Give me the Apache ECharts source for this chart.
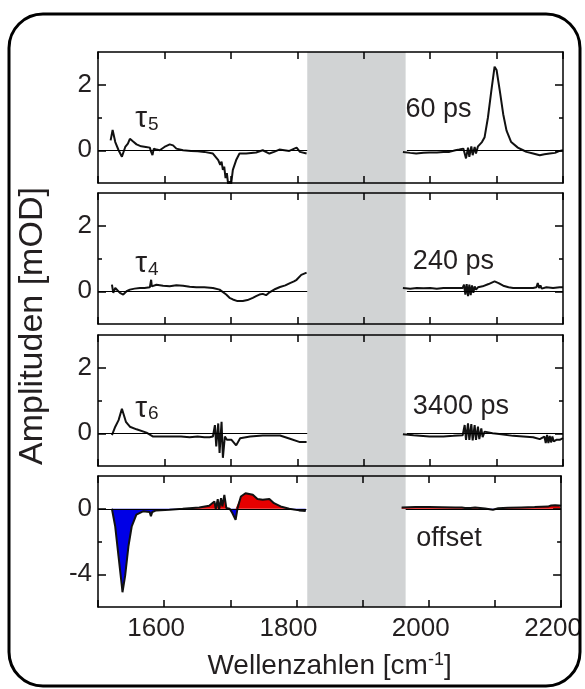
<!DOCTYPE html>
<html><head><meta charset="utf-8">
<script src="https://cdn.jsdelivr.net/npm/echarts@6/dist/echarts.min.js"></script>
<style>html,body{margin:0;padding:0;background:#fff}#c{width:585px;height:689px}</style>
</head><body><div id="c"></div>
<script>
// ---------- data (null = spectral gap) ----------
const wnTau5 = [1519,1522,1526,1531,1536,1541,1545,1548,1552,1558,1565,1572,1578,1580,1582,1584,1588,1593,1600,1608,1613,1618,1628,1640,1650,1660,1663,1673,1677,1681,1684,1686,1688,1690,1692,1694,1696,1698,1700,1703,1708,1713,1723,1738,1748,1758,1765,1773,1788,1799,1804,1814,
  1890,
  1959,1970,1979,1990,1999,2010,2020,2029,2038,2044,2050,2052,2054,2057,2059,2062,2064,2067,2069,2072,2074,2078,2082,2087,2092,2097,2100,2105,2110,2115,2122,2132,2140,2145,2155,2165,2172,2180,2188,2195,2200];
const ampTau5 = [0.3,0.62,0.25,0.0,-0.2,0.1,0.2,0.35,0.28,0.18,0.12,0.1,0.08,-0.05,-0.15,0.05,0.02,0.0,0.1,0.18,0.15,0.05,0.0,-0.02,-0.03,-0.05,-0.1,-0.1,-0.2,-0.3,-0.45,-0.35,-0.6,-0.5,-0.85,-0.7,-1.05,-0.95,-1.1,-0.6,-0.3,-0.1,-0.1,-0.07,0.0,-0.1,-0.05,0.02,-0.02,0.08,-0.05,-0.1,
  null,
  -0.05,-0.08,-0.1,-0.08,-0.07,-0.07,-0.05,-0.05,0.0,0.02,0.05,0.1,-0.25,0.08,-0.2,0.12,-0.15,0.1,-0.1,0.12,0.15,0.25,0.4,1.0,1.8,2.55,2.45,1.8,1.1,0.6,0.25,0.08,0.0,-0.05,-0.1,-0.15,-0.12,-0.1,-0.08,-0.02,0.0];

const wnTau4 = [1521,1523,1526,1528,1533,1538,1543,1548,1555,1563,1570,1578,1580,1581,1588,1598,1608,1618,1628,1638,1648,1660,1673,1683,1693,1698,1703,1710,1718,1725,1733,1738,1743,1748,1753,1757,1760,1767,1774,1782,1789,1795,1799,1806,1814,
  1890,
  1959,1970,1980,1990,2000,2010,2020,2030,2040,2049,2051,2053,2055,2057,2059,2061,2063,2065,2067,2069,2072,2079,2088,2097,2103,2110,2118,2125,2140,2155,2160,2162,2164,2166,2168,2175,2185,2195,2200];
const ampTau4 = [0.2,-0.05,0.1,0.05,-0.05,-0.1,0.0,0.05,0.08,0.1,0.1,0.12,0.35,0.15,0.2,0.17,0.15,0.18,0.17,0.14,0.12,0.12,0.1,0.05,-0.1,-0.2,-0.25,-0.3,-0.3,-0.27,-0.2,-0.15,-0.1,-0.08,-0.12,-0.05,0.0,0.07,0.13,0.18,0.25,0.3,0.35,0.5,0.57,
  null,
  0.1,0.08,0.1,0.09,0.1,0.08,0.1,0.1,0.1,0.1,0.2,-0.1,0.22,-0.15,0.2,-0.12,0.18,-0.05,0.15,0.05,0.12,0.15,0.22,0.3,0.25,0.17,0.12,0.1,0.1,0.1,0.12,0.25,0.1,0.18,0.08,0.12,0.1,0.12,0.12];

const wnTau6 = [1521,1526,1531,1536,1538,1542,1548,1558,1573,1583,1600,1613,1625,1638,1650,1660,1668,1673,1676,1678,1681,1683,1686,1688,1691,1694,1701,1708,1714,1729,1748,1774,1789,1804,1814,
  1890,
  1959,1975,1999,2020,2035,2049,2052,2054,2057,2059,2062,2064,2067,2069,2072,2074,2077,2079,2082,2084,2094,2104,2125,2140,2155,2165,2172,2174,2176,2178,2180,2182,2184,2186,2190,2195,2200];
const ampTau6 = [-0.06,0.2,0.4,0.75,0.7,0.35,0.2,0.12,0.02,-0.1,-0.1,-0.1,-0.1,-0.12,-0.1,-0.12,-0.12,-0.1,0.25,-0.4,0.3,-0.6,0.35,-0.75,-0.1,-0.2,-0.2,-0.37,-0.15,-0.1,-0.07,-0.07,-0.17,-0.27,-0.27,
  null,
  -0.03,-0.06,-0.1,-0.1,-0.08,-0.06,0.25,-0.2,0.3,-0.2,0.28,-0.22,0.25,-0.2,0.2,-0.18,0.15,-0.12,0.05,0.04,0.0,-0.02,-0.08,-0.1,-0.12,-0.18,-0.1,-0.3,-0.05,-0.3,-0.08,-0.28,-0.1,-0.25,-0.2,-0.2,-0.15];

const wnOffset = [1521,1526,1531,1536,1537,1541,1546,1551,1558,1568,1578,1580,1582,1588,1608,1628,1653,1668,1676,1678,1681,1683,1686,1688,1691,1694,1699,1703,1708,1711,1716,1723,1734,1741,1749,1759,1766,1776,1789,1804,1814,
  1890,
  1959,1980,2000,2020,2040,2050,2053,2055,2057,2059,2061,2063,2065,2070,2085,2097,2105,2120,2140,2160,2180,2185,2188,2191,2194,2197,2200];
const ampOffset = [0,-1.07,-2.9,-4.7,-5.1,-4.1,-2.3,-1.07,-0.36,-0.16,-0.2,-0.45,-0.2,-0.1,-0.06,0,0.08,0.18,0.44,-0.02,0.59,-0.06,0.65,0.14,0.85,0.04,0,-0.26,-0.67,0.04,0.75,0.95,0.85,0.59,0.55,0.6,0.34,0.14,0,-0.1,-0.14,
  null,
  0.08,0.1,0.1,0.09,0.08,0.08,0.14,0.05,0.14,0.05,0.14,0.05,0.12,0.08,0.02,-0.06,0.03,0.06,0.08,0.1,0.13,0.2,0.1,0.22,0.12,0.2,0.18];

const xRange = [1500, 2200];
const xTickLabels = [1600, 1800, 2000, 2200];
const gapRange = [1815, 1965];
const yRanges = [[-1, 3], [-1, 3], [-1, 3], [-6, 2]];
const yTickLabels = [[0, 2], [0, 2], [0, 2], [0, -4]];
const yMinorTicks = [[1], [1], [1], [-2]];
const lifetimeLabels = ['60 ps', '240 ps', '3400 ps', 'offset'];
const tauSubscripts = ['5', '4', '6'];

// ---------- chart ----------
const FONT = "'Liberation Sans', Arial, Helvetica, sans-serif";
const TXT = '#231f20';
const panels = [[wnTau5, ampTau5], [wnTau4, ampTau4], [wnTau6, ampTau6], [wnOffset, ampOffset]];
const tops = [52, 193, 335, 476];
const H = 131;

const pairs = (xs, ys, f) => xs.map((x, k) => [x, ys[k] === null ? '-' : (f ? f(ys[k]) : ys[k])]);

const chart = echarts.init(document.getElementById('c'), null, {renderer: 'canvas'});
const grids = [], xAxes = [], yAxes = [], series = [];
const lineSt = {color: '#000', width: 1.5};
const axLine = {show: true, onZero: false, lineStyle: lineSt};
const noLine = {show: false, onZero: false};

panels.forEach((p, i) => {
  grids.push({left: 98, right: 22, top: tops[i], height: H});
  const xBase = {gridIndex: i, type: 'value', min: xRange[0], max: xRange[1], interval: 100, z: 10,
    splitLine: {show: false}, axisLine: axLine,
    axisTick: {show: true, inside: true, length: 7, lineStyle: lineSt}};
  const bottom = Object.assign({}, xBase, {position: 'bottom',
    axisLabel: i === 3 ? {show: true, customValues: xTickLabels, formatter: v => String(v), fontSize: 26, color: TXT, fontFamily: FONT, margin: 9, padding: [0, 16, 0, 0]} : {show: false}});
  if (i === 3) {
    bottom.name = '{a|Wellenzahlen [cm}{b|-1}{a|]}';
    bottom.nameLocation = 'middle';
    bottom.nameGap = 44;
    bottom.nameTextStyle = {rich: {
      a: {fontSize: 28, fontFamily: FONT, color: TXT, lineHeight: 30},
      b: {fontSize: 18, fontFamily: FONT, color: TXT, verticalAlign: 'top', lineHeight: 18}
    }};
  }
  xAxes.push(bottom);
  xAxes.push(Object.assign({}, xBase, {position: 'top', axisLabel: {show: false}}));

  const r = yRanges[i];
  const yBase = {gridIndex: i, type: 'value', min: r[0], max: r[1], z: 10, splitLine: {show: false}};
  yAxes.push(Object.assign({}, yBase, {position: 'left', axisLine: axLine,
    axisTick: {show: true, inside: true, length: 8, customValues: yTickLabels[i], lineStyle: lineSt},
    axisLabel: {show: true, customValues: yTickLabels[i], fontSize: 26, color: TXT, fontFamily: FONT, margin: 6}}));
  yAxes.push(Object.assign({}, yBase, {position: 'left', axisLine: noLine,
    axisTick: {show: true, inside: true, length: 4, customValues: yMinorTicks[i], lineStyle: lineSt}, axisLabel: {show: false}}));
  yAxes.push(Object.assign({}, yBase, {position: 'right', axisLine: axLine,
    axisTick: {show: true, inside: true, length: 8, customValues: yTickLabels[i], lineStyle: lineSt}, axisLabel: {show: false}}));
  yAxes.push(Object.assign({}, yBase, {position: 'right', axisLine: noLine,
    axisTick: {show: true, inside: true, length: 4, customValues: yMinorTicks[i], lineStyle: lineSt}, axisLabel: {show: false}}));

  if (i === 3) {
    series.push({type: 'line', xAxisIndex: 2 * i, yAxisIndex: 4 * i, data: pairs(p[0], p[1], v => Math.min(v, 0)),
      symbol: 'none', lineStyle: {width: 0, opacity: 0}, areaStyle: {color: '#0000e6', opacity: 1}, z: 3});
    series.push({type: 'line', xAxisIndex: 2 * i, yAxisIndex: 4 * i, data: pairs(p[0], p[1], v => Math.max(v, 0)),
      symbol: 'none', lineStyle: {width: 0, opacity: 0}, areaStyle: {color: '#e60000', opacity: 1}, z: 3});
  }
  series.push({type: 'line', xAxisIndex: 2 * i, yAxisIndex: 4 * i, data: pairs(p[0], p[1]),
    symbol: 'none', lineStyle: {color: '#111', width: 2}, z: 4,
    markLine: {silent: true, symbol: 'none', label: {show: false}, animation: false,
      lineStyle: {color: '#000', width: 1, type: 'solid'},
      data: [[{coord: [xRange[0], 0]}, {coord: [gapRange[0], 0]}],
             [{coord: [gapRange[1], 0]}, {coord: [xRange[1], 0]}]]}});
});

chart.setOption({animation: false, grid: grids, xAxis: xAxes, yAxis: yAxes, series: series});

// ---------- overlays placed through the axes ----------
const px = (i, x, y) => chart.convertToPixel({xAxisIndex: 2 * i, yAxisIndex: 4 * i}, [x, y]);
const gTop = px(0, gapRange[0], yRanges[0][1]);
const gBot = px(3, gapRange[1], yRanges[3][0]);

const graphics = [
  {type: 'rect', z: -1, shape: {x: gTop[0], y: gTop[1], width: gBot[0] - gTop[0], height: gBot[1] - gTop[1]},
    style: {fill: '#d1d3d4'}},
  {type: 'rect', z: 20, shape: {x: 9, y: 14, width: 571, height: 672, r: 34},
    style: {fill: 'none', stroke: '#000', lineWidth: 3}},
  {type: 'text', z: 20, x: 33, y: 326, rotation: Math.PI / 2,
    style: {text: 'Amplituden [mOD]', font: '34px ' + FONT, fill: TXT, align: 'center', verticalAlign: 'middle'}}
];
const labelPos = [[1963, 1.25], [1974, 0.92], [1974, 0.83], [1981, -1.8]];
lifetimeLabels.forEach((t, i) => {
  const p = px(i, labelPos[i][0], labelPos[i][1]);
  graphics.push({type: 'text', z: 20, x: p[0], y: p[1],
    style: {text: t, font: '27px ' + FONT, fill: TXT, align: 'left', verticalAlign: 'middle'}});
});
const tauPos = [[1556, 0.95], [1556, 0.83], [1556, 0.76]];
tauSubscripts.forEach((s, i) => {
  const p = px(i, tauPos[i][0], tauPos[i][1]);
  graphics.push({type: 'text', z: 20, x: p[0], y: p[1],
    style: {text: '{t|τ}{s|' + s + '}', align: 'left', verticalAlign: 'middle', fill: TXT,
      rich: {t: {fontSize: 30, fontFamily: FONT, fill: TXT, lineHeight: 30},
             s: {fontSize: 19, fontFamily: FONT, fill: TXT, lineHeight: 19, padding: [14, 0, 0, 1], verticalAlign: 'bottom'}}}});
});
chart.setOption({graphic: graphics});
</script></body></html>
